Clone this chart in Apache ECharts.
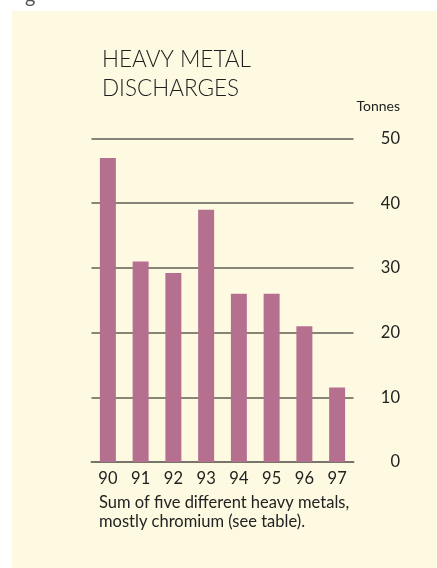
<!DOCTYPE html>
<html>
<head>
<meta charset="utf-8">
<script src="https://cdn.jsdelivr.net/npm/echarts@6/dist/echarts.min.js"></script>
<style>
  html, body { margin: 0; padding: 0; background: #ffffff; }
  #chart { width: 437px; height: 568px; }
</style>
</head>
<body>
<div id="chart"></div>
<script>
// Heavy metal discharges per year (tonnes)
const years = ['90', '91', '92', '93', '94', '95', '96', '97'];
const tonnes = [47, 31, 29.2, 39, 26, 26, 21, 11.5];
const yTicks = { min: 0, max: 50, step: 10 };

const titleText = 'HEAVY METAL\nDISCHARGES';
const unitText = 'Tonnes';
const noteText = 'Sum of five different heavy metals,\nmostly chromium (see table).';

const FONT = 'Lato, "Open Sans", sans-serif';
const chart = echarts.init(document.getElementById('chart'), null, { renderer: 'canvas' });

chart.setOption({
  backgroundColor: 'transparent',
  animation: false,
  graphic: [
    {
      type: 'rect', z: -10, silent: true,
      shape: { x: 12, y: 11, width: 425, height: 557 },
      style: { fill: '#fefae1' }
    },
    {
      type: 'text', left: 25, top: -13,
      style: { text: 'g', font: '20px ' + FONT, fill: '#555' }
    },
    {
      type: 'text', right: 37, top: 99,
      style: { text: unitText, font: '14px ' + FONT, fill: '#222', textAlign: 'right' }
    },
    {
      type: 'text', left: 99, top: 493,
      style: { text: noteText, font: '16.5px ' + FONT, lineHeight: 19, fill: '#222' }
    }
  ],
  title: {
    text: titleText,
    left: 97, top: 40,
    textStyle: { fontFamily: FONT, fontSize: 22.5, fontWeight: 300, color: '#1e1e1e', lineHeight: 29 }
  },
  grid: { left: 91.5, right: 83.5, top: 138.5, bottom: 106, containLabel: false },
  xAxis: {
    type: 'category',
    data: years,
    axisLine: { show: true, lineStyle: { color: '#77746a', width: 2 } },
    axisTick: { show: false },
    axisLabel: { margin: 8, fontFamily: FONT, fontSize: 16.5, color: '#222' }
  },
  yAxis: {
    type: 'value',
    position: 'right',
    min: yTicks.min, max: yTicks.max, interval: yTicks.step,
    axisLine: { show: false },
    axisTick: { show: false },
    splitLine: { lineStyle: { color: '#5f5c54', width: 1.5 } },
    axisLabel: { align: 'right', margin: 46.5, fontFamily: FONT, fontSize: 16.5, color: '#222' }
  },
  series: [{
    type: 'bar',
    data: tonnes,
    barWidth: 16,
    itemStyle: { color: '#b5708f' },
    z: 3
  }]
});
</script>
</body>
</html>
